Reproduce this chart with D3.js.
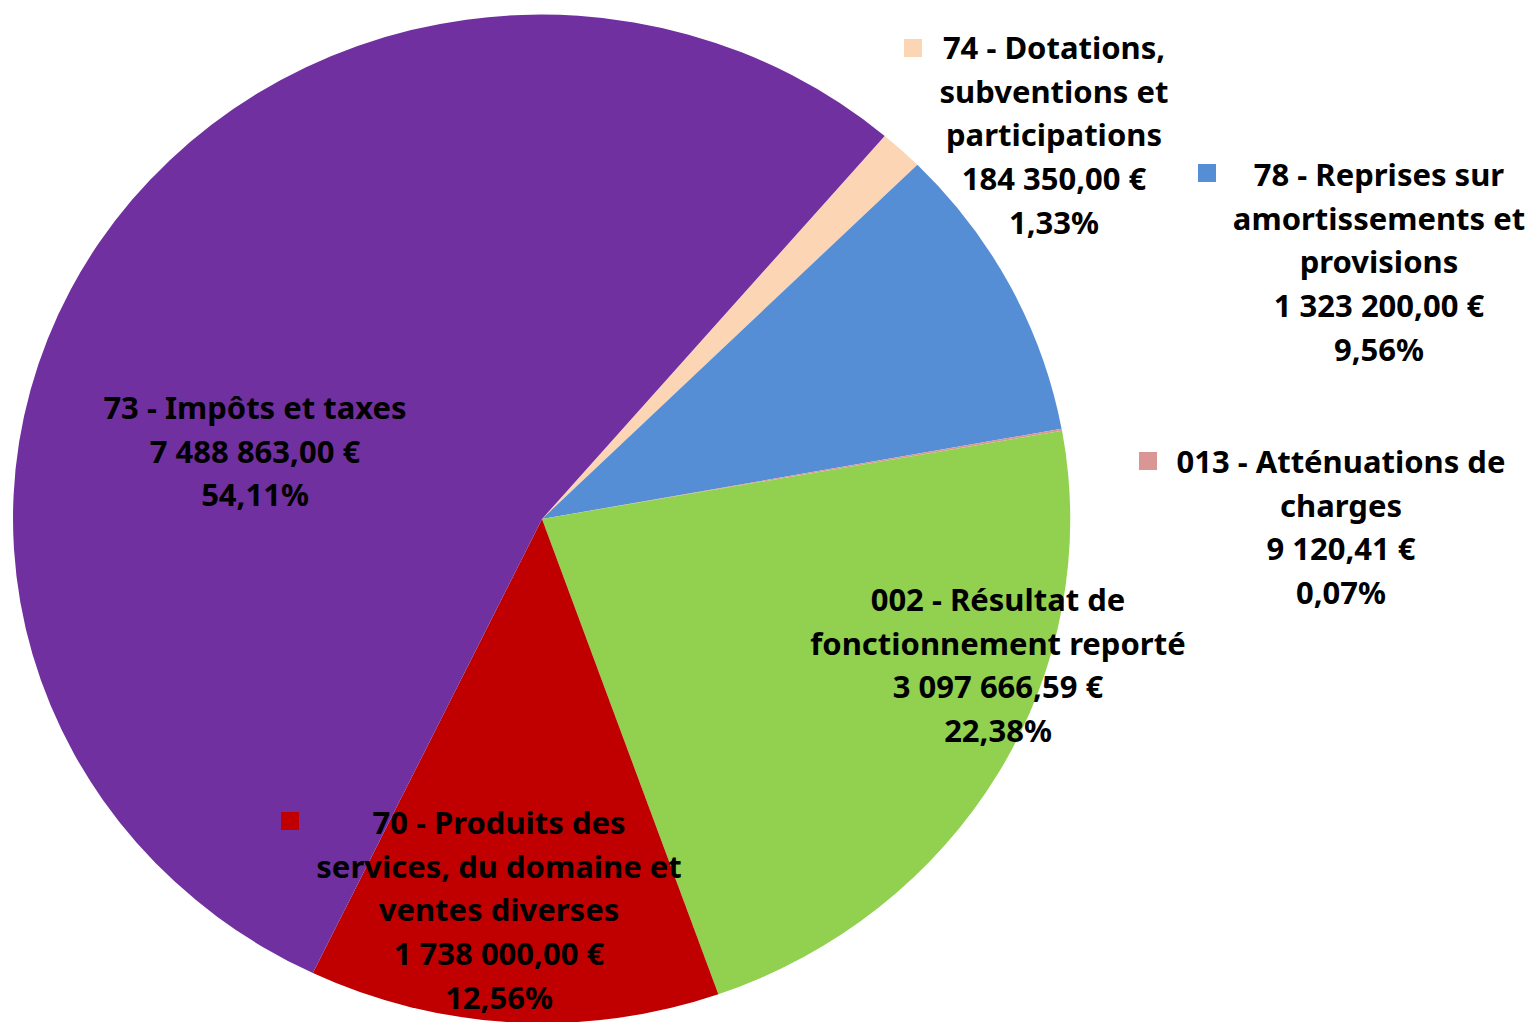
<!DOCTYPE html>
<html>
<head>
<meta charset="utf-8">
<script src="https://cdn.jsdelivr.net/npm/d3@7"></script>
<style>
  body { margin: 0; background: #fff; }
  text { font-family: "Noto Sans", "Open Sans", sans-serif; font-weight: bold; fill: #000; }
</style>
</head>
<body>
<script>
// data, clockwise from the first slice
const codes = ['74', '78', '013', '002', '70', '73'];
const names = [
    ['74 - Dotations,', 'subventions et', 'participations'],
    ['78 - Reprises sur', 'amortissements et', 'provisions'],
    ['013 - Atténuations de', 'charges'],
    ['002 - Résultat de', 'fonctionnement reporté'],
    ['70 - Produits des', 'services, du domaine et', 'ventes diverses'],
    ['73 - Impôts et taxes']
];
const values = [184350.00, 1323200.00, 9120.41, 3097666.59, 1738000.00, 7488863.00];
const colors = ['#FCD5B5', '#558ED5', '#D99694', '#92D050', '#C00000', '#7030A0'];

// label layout: centre x, first-line y, legend key (or null)
const labelPos = [
    { x: 1054, y: 48, key: [913, 48] },
    { x: 1379, y: 175, key: [1207, 173] },
    { x: 1341, y: 462, key: [1148, 461] },
    { x: 998, y: 600, key: null },
    { x: 499, y: 823, key: [290, 821] },
    { x: 255, y: 408, key: null }
];

const width = 1530, height = 1022;
const cx = 542, cy = 519, rx = 528, ry = 504;
const startAngle = 40.5 * Math.PI / 180;

const total = d3.sum(values);
const fmtNum = d3.formatLocale({ decimal: ',', thousands: '\u00a0', grouping: [3], currency: ['', ' €'] });
const money = v => fmtNum.format(',.2f')(v) + ' €';
const pct = v => fmtNum.format('.2f')(v * 100) + '%';

const svg = d3.select('body').append('svg')
    .attr('width', width)
    .attr('height', height);

const pie = d3.pie()
    .value(d => d)
    .sort(null)
    .startAngle(startAngle)
    .endAngle(startAngle + 2 * Math.PI);

const arc = d3.arc().innerRadius(0).outerRadius(1);

// unit pie stretched into the ellipse
svg.append('g')
    .attr('transform', `translate(${cx},${cy}) scale(${rx},${ry})`)
    .selectAll('path')
    .data(pie(values))
    .join('path')
    .attr('d', arc)
    .attr('fill', (d, i) => colors[i]);

const lineH = 43.8;
const labels = svg.append('g');

values.forEach((v, i) => {
    const p = labelPos[i];
    const lines = names[i].concat([money(v), pct(v / total)]);
    const t = labels.append('text')
        .attr('text-anchor', 'middle')
        .attr('font-size', 31);
    lines.forEach((s, j) => {
        t.append('tspan')
            .attr('x', p.x)
            .attr('y', p.y + j * lineH)
            .attr('dy', '0.35em')
            .text(s);
    });
    if (p.key) {
        labels.append('rect')
            .attr('x', p.key[0] - 9)
            .attr('y', p.key[1] - 9)
            .attr('width', 18)
            .attr('height', 18)
            .attr('fill', colors[i]);
    }
});
</script>
</body>
</html>
